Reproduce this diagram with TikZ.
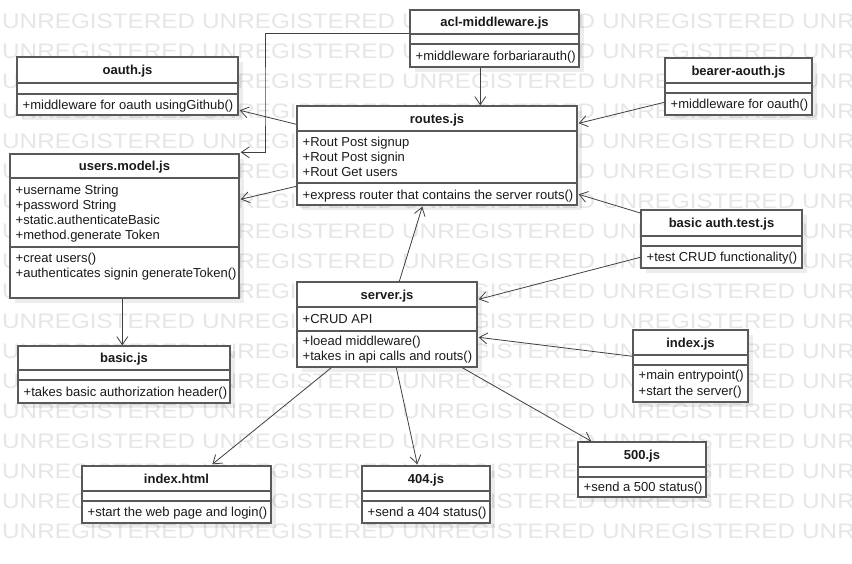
\documentclass[tikz,border=0pt]{standalone}
\usepackage{fontspec}
\setmainfont{Liberation Sans}
\usetikzlibrary{arrows.meta,calc,fit}
\definecolor{boxc}{HTML}{595959}
\definecolor{linec}{HTML}{404040}
\definecolor{txtc}{HTML}{1A1A1A}
\definecolor{wmc}{HTML}{E6E6E6}
\tikzset{
  umlbox/.style={draw=boxc, line width=1.4pt, fill=white, inner sep=0pt},
  sepline/.style={draw=boxc, line width=1.4pt},
  shadowbox/.style={fill=black, opacity=0.07},
  conn/.style={draw=linec, line width=0.8pt, -{Straight Barb[length=8pt,width=11pt]}},
  txt/.style={font=\fontsize{13}{15}\selectfont, text=txtc, inner sep=0pt},
  ttl/.style={font=\fontsize{13}{15}\selectfont\bfseries, text=txtc, inner sep=0pt},
  wm/.style={font=\fontsize{21}{21}\selectfont, text=wmc, inner sep=0pt, anchor=base west},
}
% #1 name, #2 x1, #3 y1, #4 x2, #5 y2, #6 header bottom, #7 attr bottom, #8 title
\newcommand\mkbox[8]{%
  \fill[shadowbox] (#2+5,#3+5) rectangle (#4+5,#5+5);
  \node[umlbox, fit={(#2,#3) (#4,#5)}] (#1) {};
  \draw[sepline] (#2,#6) -- (#4,#6);
  \draw[sepline] (#2,#7) -- (#4,#7);
  \node[ttl, anchor=base] (#1-t) at ({(#2+#4)/2},{(#3+#6)/2+4.6}) {#8};
}
% #1 name, #2 x, #3 y centre, #4 text
\newcommand\mkline[4]{%
  \node[txt, anchor=base west] (#1) at (#2+5.5,#3+4.6) {#4};
}
\begin{document}
\begin{tikzpicture}[x=1pt,y=-1pt]
\useasboundingbox (0,0) rectangle (852,563);
\fill[white] (0,0) rectangle (852,563);
\begin{scope}
  \clip (0,0) rectangle (852,563);
  \foreach \k in {0,...,17}{
    \foreach \i in {0,...,4}{
      \node[wm] (wm-\k-\i) at (2+200*\i, 28+30*\k) {\scalebox{1.157}[1]{UNREGISTERED}};
    }
  }
\end{scope}

% boxes
\mkbox{oauth}{17}{57}{238}{115}{83}{94}{oauth.js}
\mkline{oauth-o1}{17}{104.5}{+middleware for oauth usingGithub()}

\mkbox{acl}{410}{10}{579}{67}{34}{44}{acl-middleware.js}
\mkline{acl-o1}{410}{55.5}{+middleware forbariarauth()}

\mkbox{routes}{297}{106}{577}{205}{131}{183}{routes.js}
\mkline{routes-a1}{297}{142}{+Rout Post signup}
\mkline{routes-a2}{297}{157}{+Rout Post signin}
\mkline{routes-a3}{297}{172}{+Rout Get users}
\mkline{routes-o1}{297}{195}{+express router that contains the server routs()}

\mkbox{bearer}{665}{58}{812}{115}{83}{93}{bearer-aouth.js}
\mkline{bearer-o1}{665}{104}{+middleware for oauth()}

\mkbox{test}{641}{210}{802}{268}{236}{246}{basic auth.test.js}
\mkline{test-o1}{641}{257}{+test CRUD functionality()}

\mkbox{users}{10}{154}{239}{298}{178}{247}{users.model.js}
\mkline{users-a1}{10}{190}{+username String}
\mkline{users-a2}{10}{205}{+password String}
\mkline{users-a3}{10}{220}{+static.authenticateBasic}
\mkline{users-a4}{10}{235}{+method.generate Token}
\mkline{users-o1}{10}{258}{+creat users()}
\mkline{users-o2}{10}{273}{+authenticates signin generateToken()}

\mkbox{basic}{18}{346}{230}{403}{370}{380}{basic.js}
\mkline{basic-o1}{18}{391.5}{+takes basic authorization header()}

\mkbox{server}{297}{282}{477}{367}{307}{331}{server.js}
\mkline{server-a1}{297}{318.5}{+CRUD API}
\mkline{server-o1}{297}{341}{+loead middleware()}
\mkline{server-o2}{297}{356}{+takes in api calls and routs()}

\mkbox{indexjs}{633}{330}{748}{402}{355}{365}{index.js}
\mkline{indexjs-o1}{633}{375}{+main entrypoint()}
\mkline{indexjs-o2}{633}{390.5}{+start the server()}

\mkbox{f500}{578}{442}{706}{497}{467}{477}{500.js}
\mkline{f500-o1}{578}{487}{+send a 500 status()}

\mkbox{html}{82}{466}{271}{523}{491}{501}{index.html}
\mkline{html-o1}{82}{512}{+start the web page and login()}

\mkbox{f404}{362}{466}{490}{523}{491}{501}{404.js}
\mkline{f404-o1}{362}{512}{+send a 404 status()}

% connectors
\coordinate (j1) at (265,100);
\draw[conn] ($(acl.north west)+(0,24)$) -| (j1) |- ($(users.north east)+(1,-1)$);
\draw[conn] ($(routes.north west)+(0,19)$) -- ($(oauth.north east)+(1,54)$);
\draw[conn] ($(routes.north west)+(0,81)$) -- ($(users.north east)+(1,46)$);
\draw[conn] ($(acl.south west)+(71,0)$) -- ($(routes.north west)+(184,0)$);
\draw[conn] ($(bearer.north west)+(0,45)$) -- ($(routes.north east)+(1,18)$);
\draw[conn] ($(test.north west)+(1,4)$) -- ($(routes.north east)+(1,89)$);
\draw[conn] ($(test.north west)+(0,48)$) -- ($(server.north east)+(1,18)$);
\draw[conn] ($(server.north west)+(103,0)$) -- ($(routes.south west)+(126,1)$);
\draw[conn] ($(indexjs.north west)+(0,27)$) -- ($(server.north east)+(1,56)$);
\draw[conn] ($(users.south west)+(113,0)$) -- ($(basic.north west)+(105,0)$);
\draw[conn] ($(server.south west)+(35,0)$) -- ($(html.north west)+(131,-1)$);
\draw[conn] ($(server.south west)+(100,0)$) -- ($(f404.north west)+(56,-1)$);
\draw[conn] ($(server.south west)+(166,0)$) -- ($(f500.north west)+(14,0)$);
\end{tikzpicture}
\end{document}
